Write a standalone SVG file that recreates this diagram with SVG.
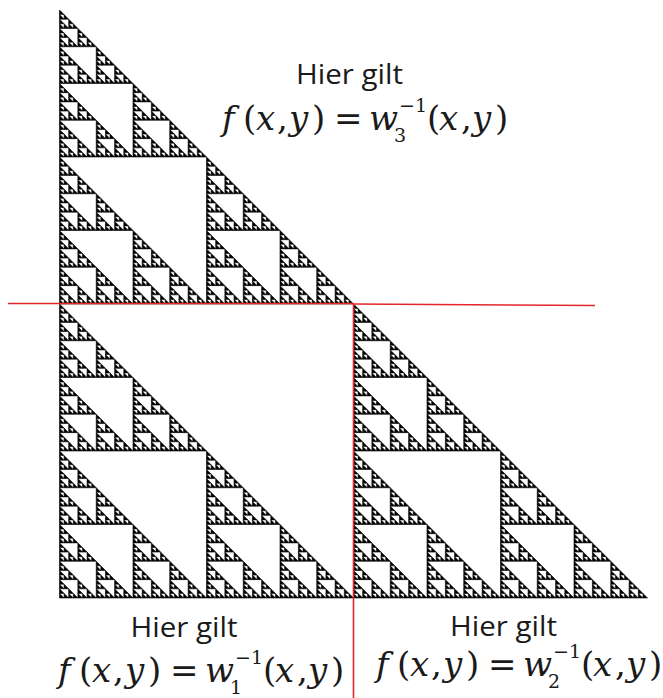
<svg xmlns="http://www.w3.org/2000/svg" width="663" height="698" viewBox="0 0 663 698">
<style>
.lbl{font-family:"Open Sans","Liberation Sans",sans-serif;font-size:27px;fill:#1a1a1a}
.m{font-family:"DejaVu Serif","Liberation Serif",serif;font-size:34px;fill:#1a1a1a}
.i{font-style:italic}
.s{font-size:19px}
.red{stroke:#e3262b;stroke-width:1.6;fill:none}
.tri{fill:#000;stroke:#000;stroke-width:0.6;stroke-linejoin:miter}
</style>
<defs>
<path id="t0" class="tri" vector-effect="non-scaling-stroke" d="M0 0V1H1Z"/>
<g id="t1"><use href="#t0" transform="scale(.5)"/><use href="#t0" transform="translate(0 .5) scale(.5)"/><use href="#t0" transform="translate(.5 .5) scale(.5)"/></g>
<g id="t2"><use href="#t1" transform="scale(.5)"/><use href="#t1" transform="translate(0 .5) scale(.5)"/><use href="#t1" transform="translate(.5 .5) scale(.5)"/></g>
<g id="t3"><use href="#t2" transform="scale(.5)"/><use href="#t2" transform="translate(0 .5) scale(.5)"/><use href="#t2" transform="translate(.5 .5) scale(.5)"/></g>
<g id="t4"><use href="#t3" transform="scale(.5)"/><use href="#t3" transform="translate(0 .5) scale(.5)"/><use href="#t3" transform="translate(.5 .5) scale(.5)"/></g>
<g id="t5"><use href="#t4" transform="scale(.5)"/><use href="#t4" transform="translate(0 .5) scale(.5)"/><use href="#t4" transform="translate(.5 .5) scale(.5)"/></g>
<g id="t6"><use href="#t5" transform="scale(.5)"/><use href="#t5" transform="translate(0 .5) scale(.5)"/><use href="#t5" transform="translate(.5 .5) scale(.5)"/></g>
<g id="t7"><use href="#t6" transform="scale(.5)"/><use href="#t6" transform="translate(0 .5) scale(.5)"/><use href="#t6" transform="translate(.5 .5) scale(.5)"/></g>
</defs>
<rect width="663" height="698" fill="#fff"/>
<g id="sierpinski">
<use href="#t7" transform="translate(59.5 10) scale(588)"/>
</g>
<g id="connectors" class="red">
<line x1="8" y1="303.5" x2="353.5" y2="303.5"/>
<line x1="353.5" y1="304" x2="595" y2="305.5"/>
<line x1="353.5" y1="303" x2="353.5" y2="698"/>
</g>
<g id="label-w3">
<text class="lbl" x="349.5" y="84" text-anchor="middle" textLength="107" lengthAdjust="spacingAndGlyphs">Hier gilt</text>
<text class="m" y="130"><tspan class="i" x="222">f</tspan><tspan x="243">(</tspan><tspan class="i" x="256">x</tspan><tspan x="277">,</tspan><tspan class="i" x="289">y</tspan><tspan x="312">)</tspan><tspan x="334">=</tspan><tspan class="i" x="369">w</tspan><tspan class="s" x="394" y="142">3</tspan><tspan class="s" x="399" y="112">−1</tspan><tspan x="427" y="130">(</tspan><tspan class="i" x="439">x</tspan><tspan x="461">,</tspan><tspan class="i" x="472">y</tspan><tspan x="495">)</tspan></text>
</g>
<g id="label-w1" transform="translate(-164 552)">
<text class="lbl" x="348" y="85" text-anchor="middle" textLength="107" lengthAdjust="spacingAndGlyphs">Hier gilt</text>
<text class="m" y="130"><tspan class="i" x="222">f</tspan><tspan x="243">(</tspan><tspan class="i" x="256">x</tspan><tspan x="277">,</tspan><tspan class="i" x="289">y</tspan><tspan x="312">)</tspan><tspan x="334">=</tspan><tspan class="i" x="369">w</tspan><tspan class="s" x="394" y="142">1</tspan><tspan class="s" x="399" y="112">−1</tspan><tspan x="427" y="130">(</tspan><tspan class="i" x="439">x</tspan><tspan x="461">,</tspan><tspan class="i" x="472">y</tspan><tspan x="495">)</tspan></text>
</g>
<g id="label-w2" transform="translate(154 546)">
<text class="lbl" x="349.5" y="90" text-anchor="middle" textLength="107" lengthAdjust="spacingAndGlyphs">Hier gilt</text>
<text class="m" y="130"><tspan class="i" x="222">f</tspan><tspan x="243">(</tspan><tspan class="i" x="256">x</tspan><tspan x="277">,</tspan><tspan class="i" x="289">y</tspan><tspan x="312">)</tspan><tspan x="334">=</tspan><tspan class="i" x="369">w</tspan><tspan class="s" x="394" y="142">2</tspan><tspan class="s" x="399" y="112">−1</tspan><tspan x="427" y="130">(</tspan><tspan class="i" x="439">x</tspan><tspan x="461">,</tspan><tspan class="i" x="472">y</tspan><tspan x="495">)</tspan></text>
</g>
</svg>
